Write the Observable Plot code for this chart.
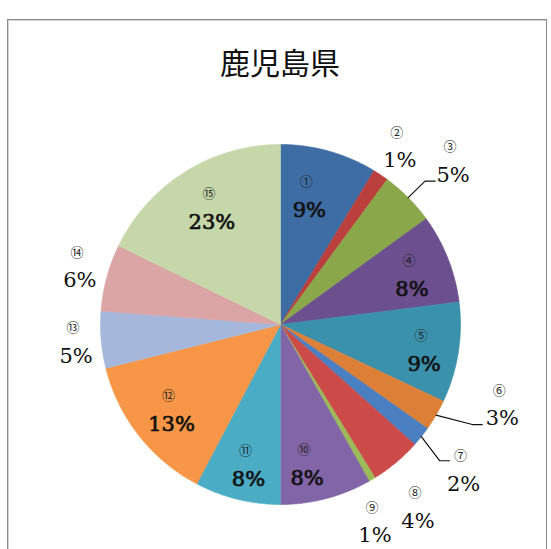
<!DOCTYPE html>
<html>
<head>
<meta charset="utf-8">
<script src="https://cdn.jsdelivr.net/npm/d3@7"></script>
<script src="https://cdn.jsdelivr.net/npm/@observablehq/plot@0.6"></script>
<style>
  html, body { margin: 0; padding: 0; background: #fff; }
  #wrap { position: relative; width: 551px; height: 549px; overflow: hidden; }
  #frame { position: absolute; left: 7px; top: 19px; width: 540px; height: 600px;
           border: 1px solid #8a8a8a; box-shadow: inset 1px 1px 0 #d4d4d4; box-sizing: border-box; }
  #title { position: absolute; left: 0; top: 45px; width: 560px; text-align: center;
           font-family: "Noto Sans CJK JP", sans-serif; font-size: 30px; line-height: 32px; color: #111; }
  #chart { position: absolute; left: 0; top: 0; }
  #chart svg g.pct text { font-family: "DejaVu Serif", serif !important; }
</style>
</head>
<body>
<div id="wrap">
  <div id="frame"></div>
  <div id="title">鹿児島県</div>
  <div id="chart"></div>
</div>
<script>
// ---- data ----
const names = ["①","②","③","④","⑤","⑥","⑦","⑧","⑨","⑩","⑪","⑫","⑬","⑭","⑮"];
const shares = [8.7, 1.4, 4.9, 8.0, 9.0, 2.8, 1.8, 4.6, 0.6, 8.2, 7.7, 13.4, 5.1, 6.0, 17.8];
const percentLabels = ["9%","1%","5%","8%","9%","3%","2%","4%","1%","8%","8%","13%","5%","6%","23%"];
const colors = ["#3e6ca5","#bb403d","#8aa84a","#6b4f8f","#3a91ac","#dc7f37","#4a7fc1","#cc4a47",
                "#9bbb59","#8265a6","#4bacc6","#f79646","#a5b8dc","#dca5a5","#c6d7aa"];

// ---- layout (label placement, not data) ----
const labelRadius = [0.73, 1.19, 1.32, 0.78, 0.81, 1.31, 1.30, 1.27, 1.215, 0.79, 0.80, 0.77, 1.14, 1.16, 0.75];
const angleNudge  = [-3, 0, 1.4, 1, 1, -10.4, 0, 3, 5, 4, -1, 0, 0, 1, 1.5];
const leaders = [ {i: 2, dx: -18, dy: 20}, {i: 5, dx: -20, dy: 20}, {i: 6, dx: -14, dy: -9.5} ];

const W = 551, H = 549, R = 180, CX = 280, CY = 324;

const arcs = d3.pie().sort(null).startAngle(0).endAngle(2 * Math.PI)(shares);
const pt = (a, r) => [r * Math.sin(a), r * Math.cos(a)];

const slicePts = [];
arcs.forEach((a, i) => {
  slicePts.push({name: names[i], x: 0, y: 0});
  const n = Math.max(4, Math.ceil((a.endAngle - a.startAngle) / (Math.PI / 360)));
  for (let k = 0; k <= n; k++) {
    const t = a.startAngle + (a.endAngle - a.startAngle) * k / n;
    const [x, y] = pt(t, 1);
    slicePts.push({name: names[i], x, y});
  }
  slicePts.push({name: names[i], x: 0, y: 0});
});

const labels = arcs.map((a, i) => {
  const mid = (a.startAngle + a.endAngle) / 2 + angleNudge[i] * Math.PI / 180;
  const [x, y] = pt(mid, labelRadius[i]);
  return {name: names[i], pct: percentLabels[i], x, y, inside: labelRadius[i] < 1};
});

const leaderPts = [];
leaders.forEach(({i, dx, dy}) => {
  const a = arcs[i];
  const mid = (a.startAngle + a.endAngle) / 2;
  const [sx, sy] = pt(mid, 1);
  const ex = labels[i].x + dx / R, ey = labels[i].y - dy / R;
  leaderPts.push({k: i, x: sx, y: sy}, {k: i, x: ex - 10 / R, y: ey}, {k: i, x: ex, y: ey});
});

const plot = Plot.plot({
  width: W, height: H,
  marginTop: 0, marginRight: 0, marginBottom: 0, marginLeft: 0,
  x: {domain: [-CX / R, (W - CX) / R], axis: null},
  y: {domain: [-(H - CY) / R, CY / R], axis: null},
  color: {domain: names, range: colors},
  style: {background: "transparent", overflow: "visible"},
  marks: [
    Plot.line(slicePts, {x: "x", y: "y", z: "name", fill: "name", stroke: "name", strokeWidth: 0.6}),
    Plot.line(leaderPts, {x: "x", y: "y", z: "k", stroke: "#111", strokeWidth: 1.2}),
    Plot.text(labels.filter(d => d.inside), {x: "x", y: "y", text: "pct", dy: 14,
      fontFamily: "DejaVu Serif", fontSize: 21, fill: "#111", stroke: "#111", strokeWidth: 0.7}),
    Plot.text(labels.filter(d => !d.inside), {x: "x", y: "y", text: "pct", dy: 14,
      fontFamily: "DejaVu Serif", fontSize: 21, fill: "#111"}),
    Plot.text(labels, {x: "x", y: "y", text: "name", dy: -14, dx: -3,
      fontFamily: "Noto Sans CJK JP", fontSize: 13, fill: "#222"})
  ]
});
document.getElementById("chart").appendChild(plot);
const textGroups = plot.querySelectorAll('g[aria-label="text"]');
[0, 1].forEach(j => { if (textGroups[j]) textGroups[j].classList.add("pct"); });
</script>
</body>
</html>
